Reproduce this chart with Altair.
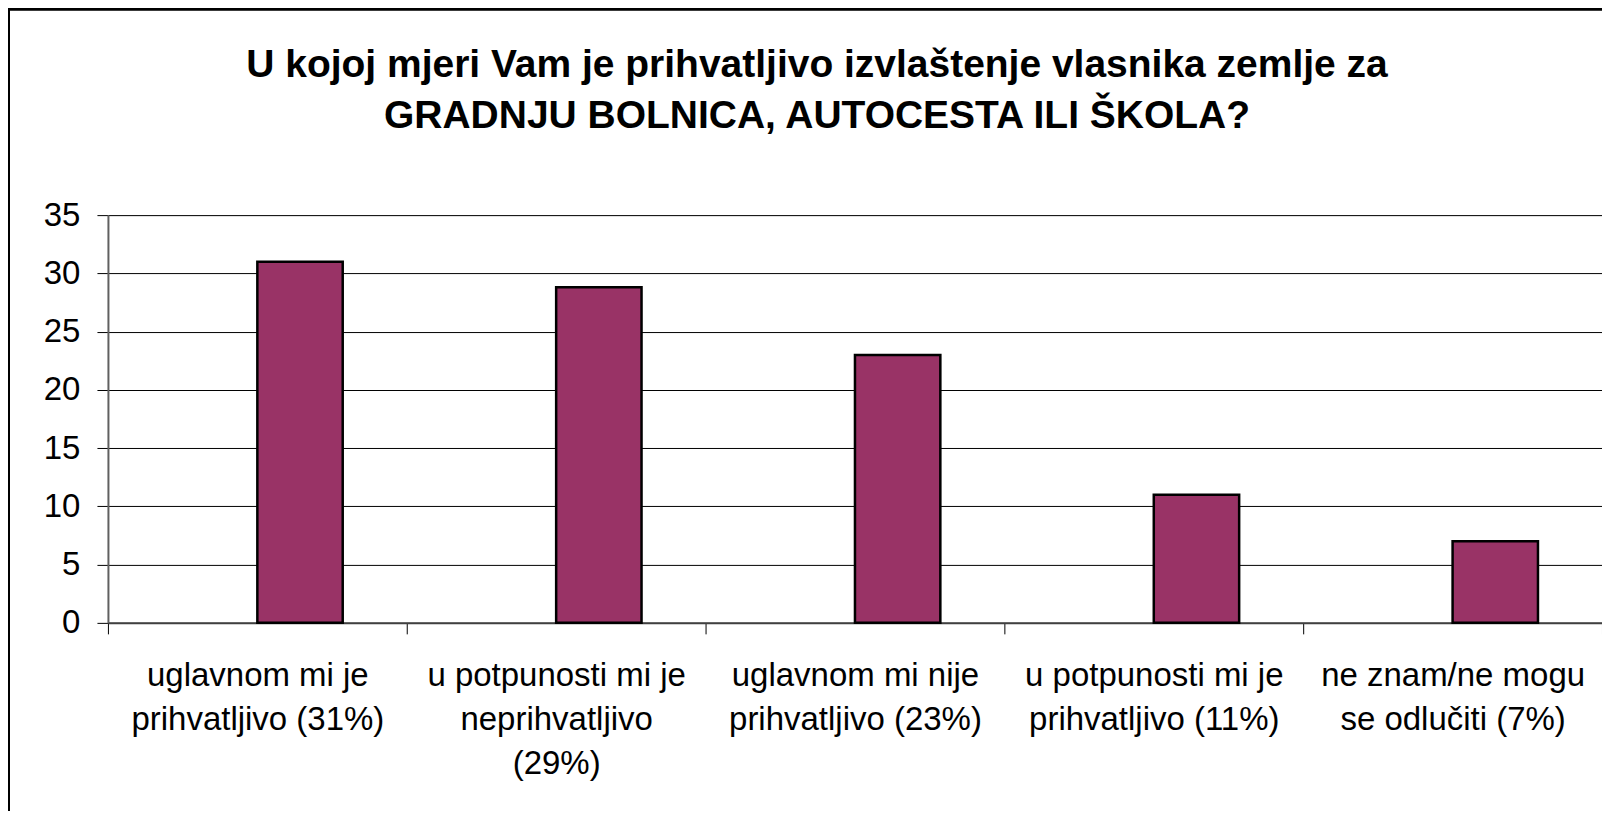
import altair as alt
import pandas as pd

# ---- data ----
categories = [
    "uglavnom mi je\nprihvatljivo (31%)",
    "u potpunosti mi je\nneprihvatljivo\n(29%)",
    "uglavnom mi nije\nprihvatljivo (23%)",
    "u potpunosti mi je\nprihvatljivo (11%)",
    "ne znam/ne mogu\nse odlučiti (7%)",
]
values = [31, 28.8, 23, 11, 7]
series_domain = ["A", "B"]   # Excel-style clustered bars: first series empty
series_name = "B"
y_ticks = [0, 5, 10, 15, 20, 25, 30, 35]
title_lines = [
    "U kojoj mjeri Vam je prihvatljivo izvlaštenje vlasnika zemlje za",
    "GRADNJU BOLNICA, AUTOCESTA ILI ŠKOLA?",
]

df = pd.DataFrame({"kategorija": categories, "vrijednost": values,
                   "serija": [series_name] * len(categories)})

FONT = "Liberation Sans"
W, H = 1495, 408

x_enc = alt.X(
    "kategorija:N", sort=categories, title=None,
    scale=alt.Scale(paddingInner=0, paddingOuter=0),
    axis=alt.Axis(
        labelAngle=0, labelExpr="split(datum.label, '\\n')", labelLimit=0,
        labelFont=FONT, labelFontSize=33, labelColor="black",
        labelLineHeight=44, labelBaseline="top", labelPadding=26,
        tickBand="extent", tickSize=11, tickColor="black", tickWidth=1,
        domainColor="#404040", domainWidth=2, grid=False,
    ),
)

bars = alt.Chart(df).mark_bar(fill="#993366", stroke="black", strokeWidth=2.5).encode(
    x=x_enc,
    xOffset=alt.XOffset("serija:N", scale=alt.Scale(domain=series_domain,
                                                     paddingInner=0, paddingOuter=0.75)),
    y=alt.Y(
        "vrijednost:Q", title=None,
        scale=alt.Scale(domain=[0, 35], nice=False),
        axis=alt.Axis(
            values=y_ticks, labelFont=FONT, labelFontSize=33, labelColor="black",
            labelPadding=17, tickSize=11, tickColor="black", tickWidth=1,
            domainColor="#606060", domainWidth=2,
            grid=True, gridColor="black", gridWidth=1, gridOpacity=1,
        ),
    ),
)

frame = alt.Chart(df).mark_rect(fill=None, stroke="black", strokeWidth=2, clip=False).encode(
    x=alt.value(-99), x2=alt.value(1700), y=alt.value(-206), y2=alt.value(900)
)

chart = alt.layer(bars, frame).properties(
    width=W, height=H,
    title=alt.Title(
        title_lines, font=FONT, fontSize=39, fontWeight="bold", color="black",
        anchor="middle", dx=-38, dy=128, lineHeight=51, offset=0, baseline="top",
    ),
    autosize=alt.AutoSizeParams(type="none"),
    padding={"left": 100, "top": 207, "right": 0, "bottom": 188},
).configure_view(
    fill="#C0C0C0", stroke="#808080", strokeWidth=2
).configure(background="white")

chart.save("out.html", embed_options={"renderer": "svg", "actions": False})
